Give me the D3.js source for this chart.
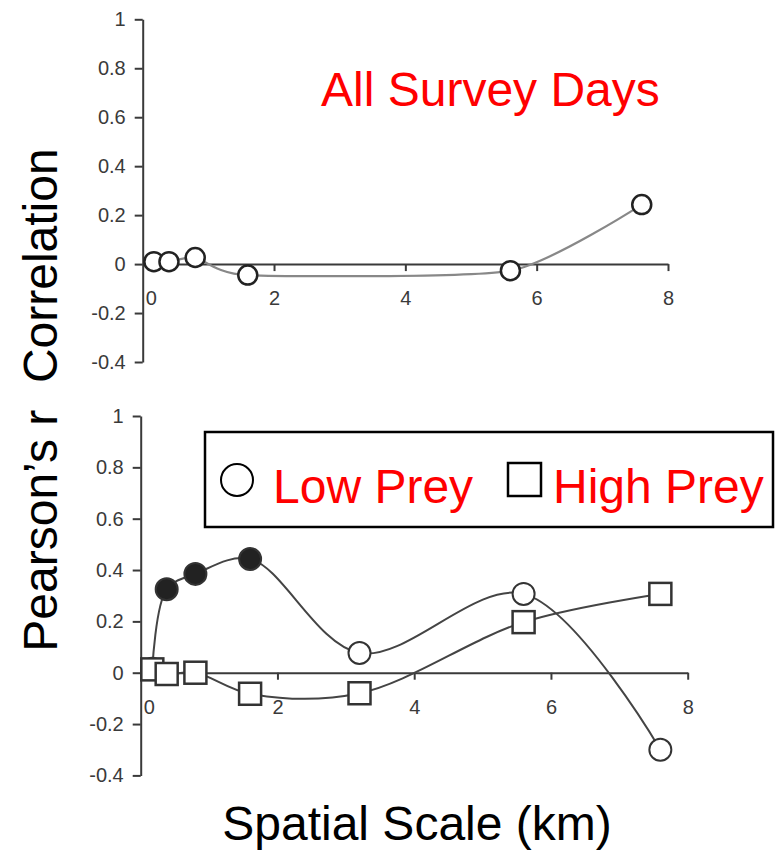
<!DOCTYPE html>
<html><head><meta charset="utf-8">
<script src="https://cdn.jsdelivr.net/npm/d3@7"></script>
<style>
body{margin:0;background:#fff;}
svg{display:block;font-family:"Liberation Sans",Arial,sans-serif;}
</style></head>
<body>
<svg id="c" width="775" height="851"></svg>
<script>
// ---- data ----
const yTicks = [-0.4, -0.2, 0, 0.2, 0.4, 0.6, 0.8, 1];
const xTicks = [0, 2, 4, 6, 8];
const allDaysKm = [0.17, 0.4, 0.8, 1.6, 5.6, 7.6];
const allDaysR = [0.01, 0.01, 0.027, -0.045, -0.027, 0.243];
const preyKm = [0.17, 0.38, 0.8, 1.6, 3.2, 5.6, 7.6];
const lowPreyR = [0.015, 0.325, 0.385, 0.443, 0.077, 0.307, -0.30];
const lowPreySig = [false, true, true, true, false, false, false];
const highPreyR = [0.013, -0.005, 0.0, -0.082, -0.08, 0.197, 0.307];
const legendLabels = ["Low Prey", "High Prey"];
const topTitle = "All Survey Days";
const yTitle = "Pearson\u2019s r  Correlation";
const xTitle = "Spatial Scale (km)";

const svg = d3.select("#c");
const fmt = d => String(+d.toFixed(1));

function panel(xr, yr) {
  const x = d3.scaleLinear().domain([0, 8]).range(xr);
  const y = d3.scaleLinear().domain([-0.4, 1]).range(yr);
  const g = svg.append("g");
  const ya = g.append("g").attr("transform", `translate(${x(0)},0)`)
    .call(d3.axisLeft(y).tickValues(yTicks).tickFormat(fmt).tickSize(8).tickSizeOuter(0).tickPadding(9));
  const xa = g.append("g").attr("transform", `translate(0,${y(0)})`)
    .call(d3.axisBottom(x).tickValues(xTicks).tickFormat(d3.format("d")).tickSize(7).tickSizeOuter(0).tickPadding(20));
  [ya, xa].forEach(a => {
    a.attr("font-size", 20).attr("font-family", null);
    a.select(".domain").attr("stroke", "#3a3a3a").attr("stroke-width", 2);
    a.selectAll(".tick line").attr("stroke", "#3a3a3a").attr("stroke-width", 2);
    a.selectAll(".tick text").attr("fill", "#3a3a3a").attr("font-size", 20).style("font-size", "20px");
  });
  xa.selectAll(".tick").filter(d => d === 0).select("line").remove();
  xa.selectAll(".tick").filter(d => d === 0).select("text").attr("dx", 8);
  return {x, y, g};
}

// ---- top panel ----
const T = panel([142.7, 668], [362, 19.3]);
const topPts = allDaysKm.map((k, i) => [k, allDaysR[i]]);
const line = (p, c) => d3.line().x(d => p.x(d[0])).y(d => p.y(d[1])).curve(c);
T.g.append("path").datum(topPts).attr("d", line(T, d3.curveCardinal.tension(0.4))).attr("fill", "none")
  .attr("stroke", "#888").attr("stroke-width", 2.2);
T.g.selectAll("circle.pt").data(topPts).join("circle")
  .attr("cx", d => T.x(d[0])).attr("cy", d => T.y(d[1])).attr("r", 9.5)
  .attr("fill", "#fff").attr("stroke", "#222").attr("stroke-width", 2.5);

svg.append("text").attr("x", 321).attr("y", 106).attr("fill", "#ff0000")
  .style("font-size", "48px").text(topTitle);

// ---- bottom panel ----
const B = panel([140.7, 687.7], [775.4, 416]);
const lowPts = preyKm.map((k, i) => [k, lowPreyR[i], lowPreySig[i]]);
const highPts = preyKm.map((k, i) => [k, highPreyR[i]]);
const cr = d3.curveCatmullRom.alpha(0.5);
B.g.append("path").datum(highPts).attr("d", line(B, cr)).attr("fill", "none")
  .attr("stroke", "#444").attr("stroke-width", 2);
B.g.append("path").datum(lowPts).attr("d", line(B, cr)).attr("fill", "none")
  .attr("stroke", "#444").attr("stroke-width", 2);
B.g.selectAll("circle.low").data(lowPts).join("circle").attr("class", "low")
  .attr("cx", d => B.x(d[0])).attr("cy", d => B.y(d[1])).attr("r", 11)
  .attr("fill", d => d[2] ? "#222" : "#fff").attr("stroke", "#333").attr("stroke-width", 2);
const sq = 22;
B.g.selectAll("rect.high").data(highPts).join("rect").attr("class", "high")
  .attr("x", d => B.x(d[0]) - sq / 2).attr("y", d => B.y(d[1]) - sq / 2)
  .attr("width", sq).attr("height", sq)
  .attr("fill", "#fff").attr("stroke", "#333").attr("stroke-width", 2.5);

// ---- legend ----
const lg = svg.append("g");
lg.append("rect").attr("x", 205).attr("y", 432).attr("width", 568).attr("height", 95)
  .attr("fill", "#fff").attr("stroke", "#000").attr("stroke-width", 2.5);
lg.append("circle").attr("cx", 237).attr("cy", 480).attr("r", 16)
  .attr("fill", "#fff").attr("stroke", "#000").attr("stroke-width", 2);
lg.append("rect").attr("x", 508).attr("y", 463).attr("width", 33).attr("height", 33)
  .attr("fill", "#fff").attr("stroke", "#000").attr("stroke-width", 2.5);
lg.append("text").attr("x", 273).attr("y", 503).attr("fill", "#ff0000").style("font-size", "48px").text(legendLabels[0]);
lg.append("text").attr("x", 553).attr("y", 503).attr("fill", "#ff0000").style("font-size", "48px").text(legendLabels[1]);

// ---- axis titles ----
svg.append("text").attr("transform", "translate(57,400) rotate(-90)")
  .attr("text-anchor", "middle").attr("fill", "#000")
  .style("white-space", "pre").style("font-size", "48px").text(yTitle);
svg.append("text").attr("x", 417).attr("y", 840).attr("text-anchor", "middle")
  .attr("fill", "#000").style("font-size", "48px").text(xTitle);
</script>
</body></html>
